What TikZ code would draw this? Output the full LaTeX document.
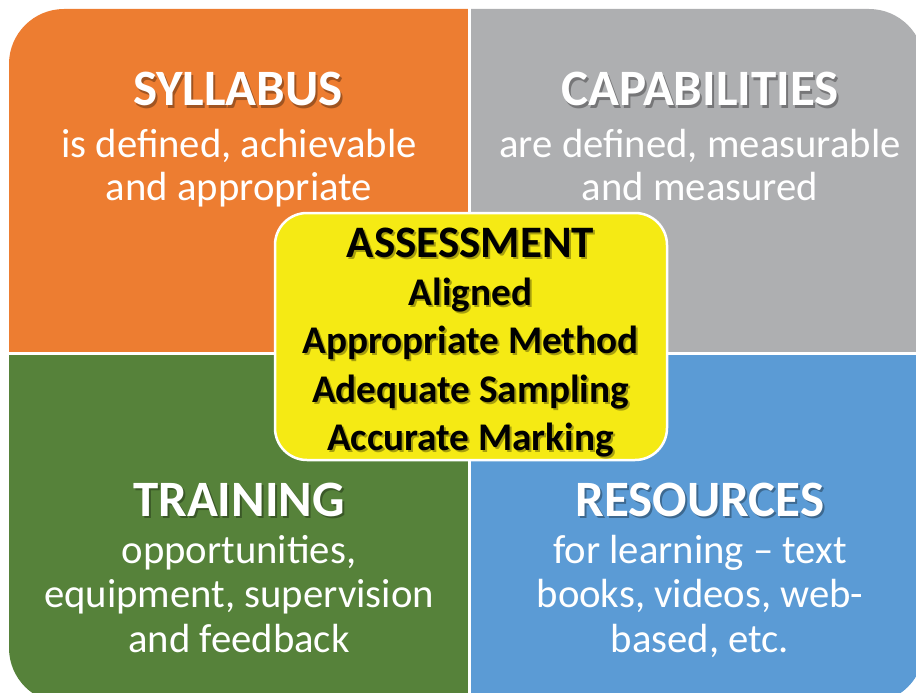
\documentclass[tikz,border=0pt]{standalone}
\usepackage{fontspec}
\setmainfont{Carlito}
\usetikzlibrary{calc}

\definecolor{syllorange}{HTML}{ED7D31}
\definecolor{capgray}{HTML}{AEAFB1}
\definecolor{traingreen}{HTML}{56823A}
\definecolor{resblue}{HTML}{5B9BD5}
\definecolor{assessyellow}{HTML}{F5EA14}

% text with a soft drop shadow: name, base point, style, text
\newcommand\shadowlabel[4]{%
  \node[#3, text=black, text opacity=.32] at ($(#2)+(2,2)$) {#4};
  \node[#3] (#1) at (#2) {#4};
}

\tikzset{
  base/.style={anchor=base, inner sep=0pt, outer sep=0pt},
  title/.style={base, text=white, font=\fontsize{51}{56}\selectfont\bfseries},
  body/.style={base, text=white, font=\fontsize{40.7}{44}\selectfont},
  asshead/.style={base, text=black, font=\fontsize{45}{50}\selectfont\bfseries},
  assline/.style={base, text=black, font=\fontsize{39.2}{46}\selectfont\bfseries},
  divider/.style={white, line width=3pt},
}

\begin{document}
\begin{tikzpicture}[x=1pt,y=-1pt]
\useasboundingbox (0,0) rectangle (916,693);

% the four quadrants, sharing one rounded outline
\begin{scope}
  \clip[rounded corners=55pt] (9,9) rectangle (924,703);
  \fill[syllorange] (0,0) rectangle (469,353.5);
  \fill[capgray] (469,0) rectangle (940,353.5);
  \fill[traingreen] (0,353.5) rectangle (469,720);
  \fill[resblue] (469,353.5) rectangle (940,720);
\end{scope}
\coordinate (vtop) at (469,0);
\coordinate (vbot) at (469,700);
\coordinate (hleft) at (0,353.5);
\coordinate (hright) at (930,353.5);
\draw[divider] (vtop) -- (vbot);
\draw[divider] (hleft) -- (hright);

% top left
\shadowlabel{syl}{238,106}{title}{SYLLABUS}
\node[body] (syl1) at (239,157) {is defined, achievable};
\node[body] (syl2) at (239,200) {and appropriate};

% top right
\shadowlabel{cap}{700,106}{title}{CAPABILITIES}
\node[body] (cap1) at (700,157) {are defined, measurable};
\node[body] (cap2) at (700,200) {and measured};

% bottom left
\shadowlabel{tra}{239,516}{title}{TRAINING}
\node[body] (tra1) at (239,563) {opportunities,};
\node[body] (tra2) at (239,607) {equipment, supervision};
\node[body] (tra3) at (239,652) {and feedback};

% bottom right
\shadowlabel{res}{700,516}{title}{RESOURCES}
\node[body] (res1) at (700,563) {for learning – text};
\node[body] (res2) at (700,607) {books, videos, web-};
\node[body] (res3) at (700,652) {based, etc.};

% centre box
\node[draw=white, line width=2.5pt, fill=assessyellow, rounded corners=32pt,
      minimum width=392pt, minimum height=247pt, inner sep=0pt] (box) at (471,336.5) {};
\shadowlabel{ass}{470.5,257}{asshead}{ASSESSMENT}
\shadowlabel{ass1}{470.5,305}{assline}{Aligned}
\shadowlabel{ass2}{470.5,353}{assline}{Appropriate Method}
\shadowlabel{ass3}{470.5,402}{assline}{Adequate Sampling}
\shadowlabel{ass4}{470.5,450}{assline}{Accurate Marking}
\end{tikzpicture}
\end{document}
